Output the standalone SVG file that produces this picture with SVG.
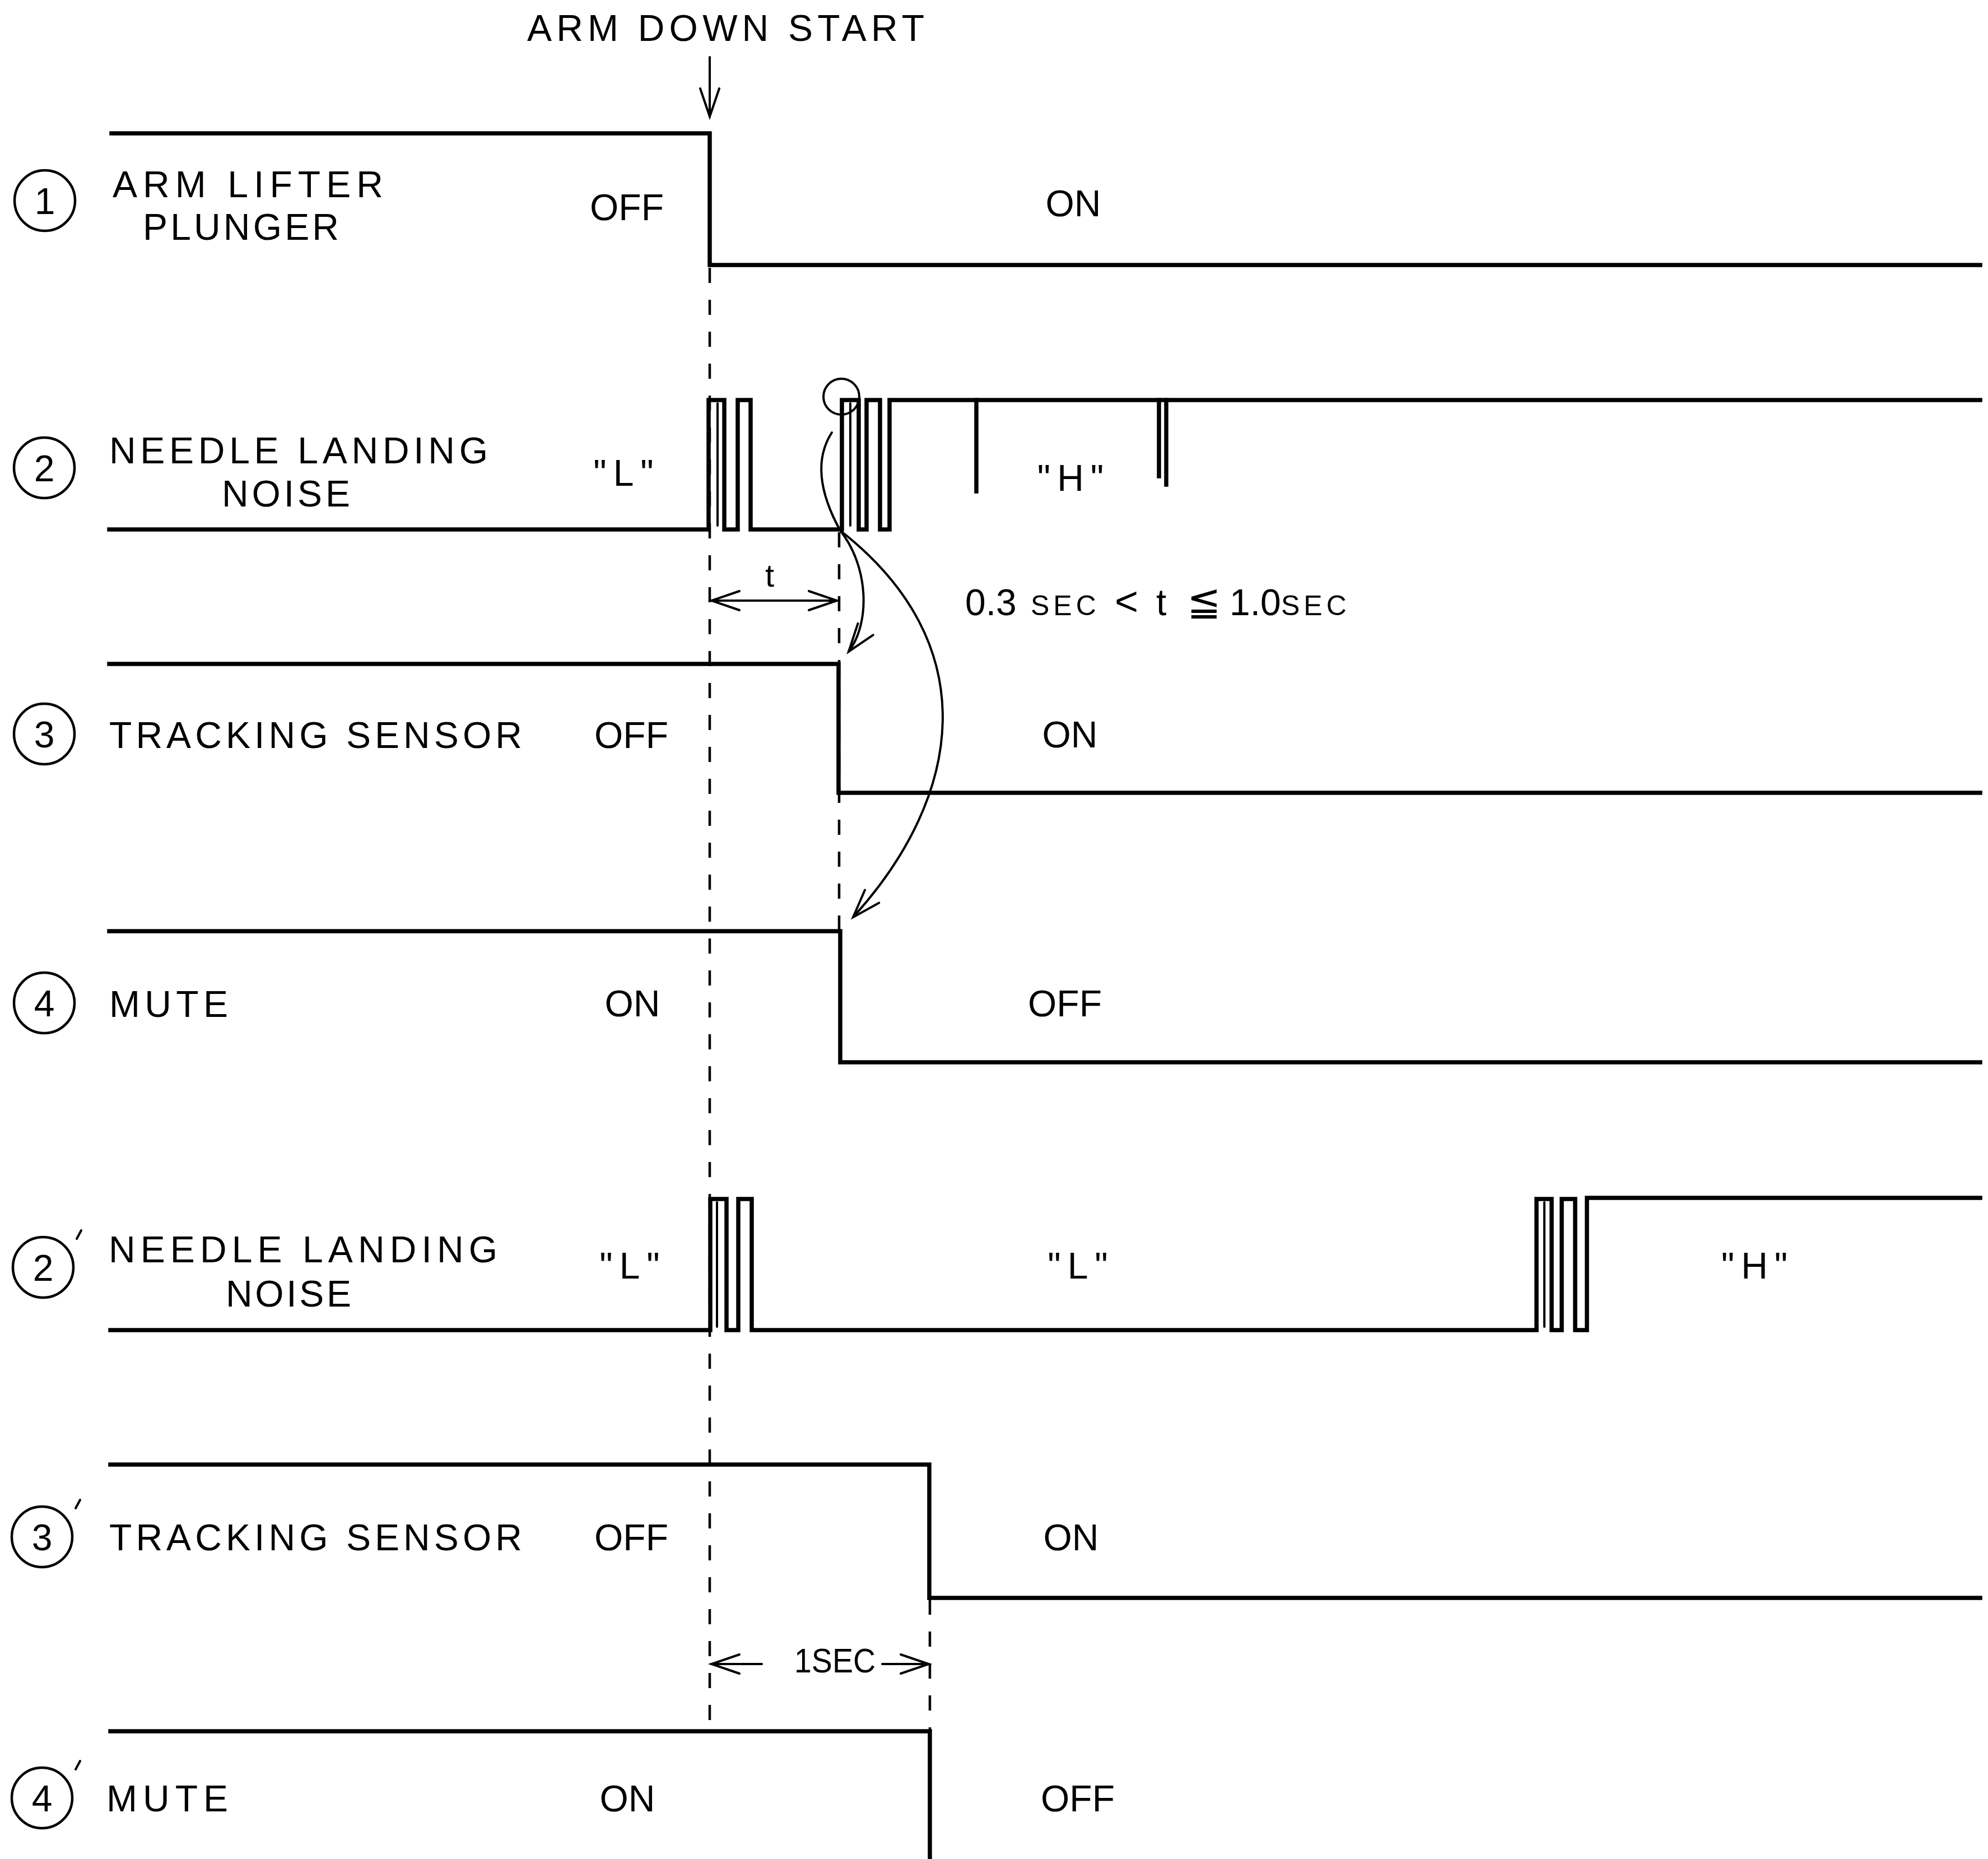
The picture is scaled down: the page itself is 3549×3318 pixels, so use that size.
<svg xmlns="http://www.w3.org/2000/svg" width="3549" height="3318" viewBox="0 0 3549 3318">
<style>
.sig{fill:none;stroke:#000;stroke-width:7.5;stroke-linejoin:miter;stroke-linecap:square}
.thin{fill:none;stroke:#000;stroke-width:4;stroke-linecap:round}
.dash{fill:none;stroke:#000;stroke-width:4.5;stroke-dasharray:27 30}
.num{fill:none;stroke:#000;stroke-width:4.5}
text{font-family:"Liberation Sans","DejaVu Sans",sans-serif;font-size:66px;fill:#000}
.mid{text-anchor:middle}
.sm{font-size:50px;letter-spacing:7px}
.q{letter-spacing:12px}
</style>
<defs>
<marker id="open" markerUnits="userSpaceOnUse" markerWidth="120" markerHeight="120" refX="0" refY="0" viewBox="-60 -60 120 120" orient="auto" overflow="visible">
<path d="M-50,-17 L0,0 L-50,17" fill="none" stroke="#000" stroke-width="4" stroke-linecap="round" stroke-linejoin="miter"/>
</marker>
</defs>
<rect width="3549" height="3318" fill="#fff"/>

<g id="title">
<text x="941" y="73" textLength="709" lengthAdjust="spacing">ARM DOWN START</text>
</g>

<g id="row1">
<circle class="num" cx="80" cy="358" r="54"/>
<text class="mid" x="80" y="382">1</text>
<text x="201" y="352" textLength="483" lengthAdjust="spacing">ARM LIFTER</text>
<text x="255" y="428" textLength="350" lengthAdjust="spacing">PLUNGER</text>
<text class="mid" x="1119" y="393">OFF</text>
<text class="mid" x="1916" y="386">ON</text>
<path class="sig" d="M199,238 H1267 V473 H3535"/>
</g>

<g id="row2">
<circle class="num" cx="79" cy="835" r="54"/>
<text class="mid" x="79" y="859">2</text>
<text x="195" y="827" textLength="676" lengthAdjust="spacing">NEEDLE LANDING</text>
<text x="396" y="904" textLength="229" lengthAdjust="spacing">NOISE</text>
<text class="mid q" x="1119" y="867">"L"</text>
<text class="mid q" x="1917" y="876">"H"</text>
<path class="sig" d="M195,945 H1265 V714 H1293 V945 H1317 V714 H1340 V945 H1503 V714 H1533 V945 H1547 V714 H1571 V945 H1588 V714 H3535"/>
<path class="thin" d="M1281,720 V938 M1518,720 V938"/>
<path class="sig" d="M1743,714 V877 M2069,714 V850 M2082,714 V865"/>
<circle class="thin" cx="1502" cy="708" r="32"/>
</g>

<g id="row3">
<circle class="num" cx="79" cy="1310" r="54"/>
<text class="mid" x="79" y="1334">3</text>
<text x="195" y="1335" textLength="737" lengthAdjust="spacing">TRACKING SENSOR</text>
<text class="mid" x="1127" y="1335">OFF</text>
<text class="mid" x="1910" y="1334">ON</text>
<path class="sig" d="M195,1185 H1497 V1415 H3535"/>
</g>

<g id="row4">
<circle class="num" cx="79" cy="1790" r="54"/>
<text class="mid" x="79" y="1814">4</text>
<text x="195" y="1815" textLength="212" lengthAdjust="spacing">MUTE</text>
<text class="mid" x="1129" y="1814">ON</text>
<text class="mid" x="1901" y="1814">OFF</text>
<path class="sig" d="M195,1662 H1500 V1896 H3535"/>
</g>

<g id="row2p">
<circle class="num" cx="77" cy="2262" r="54"/>
<text class="mid" x="77" y="2286">2</text>
<path class="thin" d="M145,2196 L137,2211"/>
<text x="194" y="2253" textLength="694" lengthAdjust="spacing">NEEDLE LANDING</text>
<text x="403" y="2332" textLength="224" lengthAdjust="spacing">NOISE</text>
<text class="mid q" x="1130" y="2282">"L"</text>
<text class="mid q" x="1930" y="2282">"L"</text>
<text class="mid q" x="3138" y="2282">"H"</text>
<path class="sig" d="M197,2374 H1268 V2140 H1297 V2374 H1318 V2140 H1342 V2374 H2743 V2140 H2770 V2374 H2788 V2140 H2812 V2374 H2833 V2138 H3535"/>
<path class="thin" d="M1280,2146 V2368 M2757,2146 V2368"/>
</g>

<g id="row3p">
<circle class="num" cx="75" cy="2743" r="54"/>
<text class="mid" x="75" y="2767">3</text>
<path class="thin" d="M143,2677 L135,2692"/>
<text x="195" y="2767" textLength="737" lengthAdjust="spacing">TRACKING SENSOR</text>
<text class="mid" x="1127" y="2767">OFF</text>
<text class="mid" x="1912" y="2767">ON</text>
<path class="sig" d="M197,2614 H1659 V2852 H3535"/>
</g>

<g id="row4p">
<circle class="num" cx="75" cy="3209" r="54"/>
<text class="mid" x="75" y="3233">4</text>
<path class="thin" d="M143,3143 L135,3158"/>
<text x="190" y="3233" textLength="217" lengthAdjust="spacing">MUTE</text>
<text class="mid" x="1120" y="3233">ON</text>
<text class="mid" x="1924" y="3233">OFF</text>
<path class="sig" d="M197,3090 H1660 V3318"/>
</g>

<g id="connectors">
<path class="thin" d="M1267,102 V208" marker-end="url(#open)"/>
<path class="dash" d="M1267,478 V3090"/>
<path class="dash" d="M1498,950 V1662"/>
<path class="dash" d="M1660,2855 V3090"/>
<path class="thin" d="M1485,772 Q1441,840 1500,947"/>
<path class="thin" d="M1500,947 C1550,1010 1555,1110 1515,1163" marker-end="url(#open)"/>
<path class="thin" d="M1500,947 C1760,1150 1720,1420 1523,1637" marker-end="url(#open)"/>
<path class="thin" d="M1380,1072 H1270" marker-end="url(#open)"/>
<path class="thin" d="M1380,1072 H1494" marker-end="url(#open)"/>
<text class="mid" x="1374" y="1047" style="font-size:58px">t</text>
<text x="1723" y="1098">0.3<tspan class="sm" x="1840">SEC</tspan><tspan x="1990" style="font-size:72px">&lt;</tspan><tspan x="2064">t</tspan><tspan x="2119" style="font-size:72px">≦</tspan><tspan x="2195">1.0</tspan><tspan class="sm" x="2287">SEC</tspan></text>
<path class="thin" d="M1360,2970 H1270" marker-end="url(#open)"/>
<path class="thin" d="M1575,2970 H1658" marker-end="url(#open)"/>
<text x="1418" y="2985" style="font-size:62px" textLength="145" lengthAdjust="spacingAndGlyphs">1SEC</text>
</g>
</svg>
